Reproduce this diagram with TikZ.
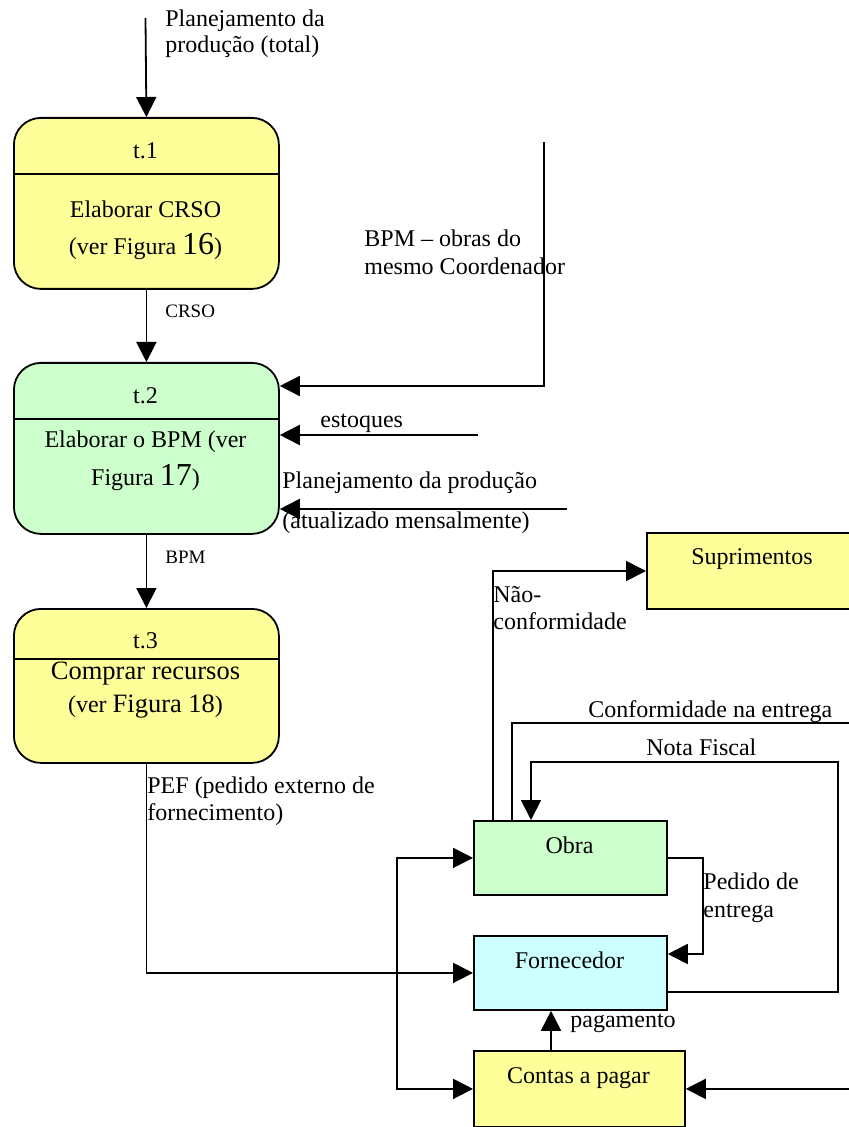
\documentclass[tikz,border=0pt]{standalone}
\usepackage{fontspec}
\setmainfont{Liberation Serif}
\usetikzlibrary{arrows.meta}
\definecolor{ylw}{HTML}{FFFF99}
\definecolor{grn}{HTML}{CCFFCC}
\definecolor{cyn}{HTML}{CCFFFF}
\tikzset{
 box/.style={draw, line width=0.9pt, anchor=north west, inner sep=0pt},
 tbox/.style={box, rounded corners=13.5pt, minimum width=132.5pt},
 arr/.style={line width=0.9pt, -{Triangle[length=10pt,width=10pt]}},
 both/.style={line width=0.9pt, {Triangle[length=10pt,width=10pt]}-{Triangle[length=10pt,width=10pt]}},
 ln/.style={line width=0.9pt},
 txt/.style={inner sep=0pt, anchor=base, font=\fontsize{12}{14}\selectfont},
 lbl/.style={inner sep=0pt, anchor=base west, font=\fontsize{12}{14}\selectfont},
 slbl/.style={lbl, font=\fontsize{9.5}{11}\selectfont},
}
\begin{document}
\begin{tikzpicture}[x=0.5pt,y=-0.5pt]
\useasboundingbox (0,0) rectangle (849,1127);
\clip (0,0) rectangle (849,1127);

% boxes
\node[tbox, fill=ylw, minimum height=85.5pt] (t1) at (13,117) {};
\node[tbox, fill=grn, minimum height=85.5pt] (t2) at (13,362) {};
\node[tbox, fill=ylw, minimum height=77pt] (t3) at (13,608) {};
\draw[ln] (t1.west |- 0,174) -- (t1.east |- 0,174);
\draw[ln] (t2.west |- 0,419) -- (t2.east |- 0,419);
\draw[ln] (t3.west |- 0,659) -- (t3.east |- 0,659);

\node[box, fill=ylw, minimum width=106pt, minimum height=38pt] (sup) at (646,532) {};
\node[box, fill=grn, minimum width=96.5pt, minimum height=37pt] (obra) at (473,820) {};
\node[box, fill=cyn, minimum width=96.5pt, minimum height=37pt] (forn) at (473,935) {};
\node[box, fill=ylw, minimum width=105.5pt, minimum height=38pt] (contas) at (473,1050) {};

% box texts
\node[txt] (t1a) at (145.5,159) {t.1};
\node[txt] (t1b) at (145.5,218) {Elaborar CRSO};
\node[txt] (t1c) at (145.5,255) {(ver Figura {\fontsize{16}{18}\selectfont 16})};
\node[txt] (t2a) at (145.5,404) {t.2};
\node[txt] (t2b) at (145.5,448) {Elaborar o BPM (ver};
\node[txt] (t2c) at (145.5,485) {Figura {\fontsize{16}{18}\selectfont 17})};
\node[txt] (t3a) at (145.5,648) {t.3};
\node[txt, font=\fontsize{13.25}{15}\selectfont] (t3b) at (145.5,679) {Comprar recursos};
\node[txt] (t3c) at (145.5,712) {(ver {\fontsize{13.25}{15}\selectfont Figura 18})};
\node[txt] (supt) at (752,564) {Suprimentos};
\node[txt] (obrat) at (569.5,853) {Obra};
\node[txt] (fornt) at (569.5,968) {Fornecedor};
\node[txt] (contast) at (578.5,1083) {Contas a pagar};

% labels
\node[lbl] (l1a) at (165,27) {Planejamento da};
\node[lbl] (l1b) at (165,53) {produção (total)};
\node[slbl] (l2) at (165,318) {CRSO};
\node[lbl] (l3a) at (364,247) {BPM – obras do};
\node[lbl] (l3b) at (364,275) {mesmo Coordenador};
\node[lbl] (l4) at (320,428) {estoques};
\node[lbl] (l5a) at (282,488) {Planejamento da produção};
\node[lbl] (l5b) at (282,528) {(atualizado mensalmente)};
\node[slbl] (l6) at (165,563) {BPM};
\node[lbl] (l7a) at (147,793) {PEF (pedido externo de};
\node[lbl] (l7b) at (147,820) {fornecimento)};
\node[lbl] (l8a) at (493,602) {Não-};
\node[lbl] (l8b) at (493,629) {conformidade};
\node[lbl] (l9) at (588,717) {Conformidade na entrega};
\node[lbl] (l10) at (646,755) {Nota Fiscal};
\node[lbl] (l11a) at (703,889) {Pedido de};
\node[lbl] (l11b) at (703,917) {entrega};
\node[lbl] (l12) at (570,1027) {pagamento};

% connectors
\coordinate (in1) at (145.5,18);
\draw[arr] (in1) -- (t1.north);
\draw[arr] (t1.south) -- (t2.north);
\draw[arr] (t2.south) -- (t3.north);
\coordinate (bpmsrc) at (544,142);
\coordinate (bpmy) at (0,386);
\draw[arr] (bpmsrc) |- (t2.east |- bpmy);
\coordinate (est) at (478,435);
\draw[arr] (est) -- (t2.east |- est);
\coordinate (plan) at (567,509);
\draw[arr] (plan) -- (t2.east |- plan);
\draw[arr] (t3.south) |- (forn.west);
\coordinate (bus) at (397,0);
\draw[both] (obra.west) -- (obra.west -| bus) -- (contas.west -| bus) -- (contas.west);
\coordinate (cinx) at (860,0);
\draw[arr] (contas.east -| cinx) -- (contas.east);
\coordinate (pay) at (551,0);
\draw[arr] (contas.north -| pay) -- (forn.south -| pay);
\coordinate (pe) at (703,954);
\draw[arr] (obra.east) -| (pe) -- (forn.east |- pe);
\coordinate (nfA) at (838,992);
\coordinate (nfB) at (838,762);
\coordinate (nfC) at (531,762);
\draw[arr] (forn.east |- nfA) -- (nfA) -- (nfB) -- (nfC) -- (obra.north -| nfC);
\coordinate (cfA) at (512,723);
\coordinate (cfB) at (860,723);
\draw[ln] (obra.north -| cfA) -- (cfA) -- (cfB);
\coordinate (ncA) at (493,571);
\draw[arr] (obra.north -| ncA) -- (ncA) -- (sup.west |- ncA);
\end{tikzpicture}
\end{document}
